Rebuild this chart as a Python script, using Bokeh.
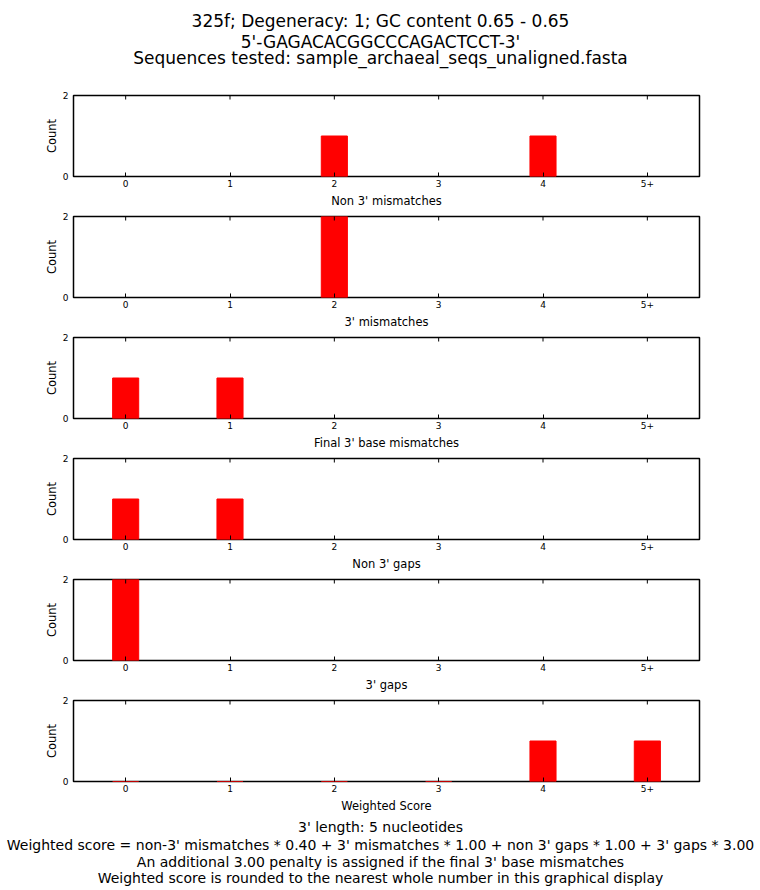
import math
from bokeh.plotting import figure
from bokeh.layouts import column
from bokeh.models import FactorRange, Range1d, FixedTicker
from bokeh.embed import file_html
from bokeh.resources import INLINE
from bokeh.core.properties import value

# ---- data ----
categories = ["0", "1", "2", "3", "4", "5+"]
non3_mismatches = [0, 0, 1, 0, 1, 0]
mismatches_3 = [0, 0, 2, 0, 0, 0]
final_base_mismatches = [1, 1, 0, 0, 0, 0]
non3_gaps = [1, 1, 0, 0, 0, 0]
gaps_3 = [2, 0, 0, 0, 0, 0]
weighted_score = [0, 0, 0, 0, 1, 1]

panel_series = [non3_mismatches, mismatches_3, final_base_mismatches,
                non3_gaps, gaps_3, weighted_score]
panel_labels = ["Non 3' mismatches", "3' mismatches", "Final 3' base mismatches",
                "Non 3' gaps", "3' gaps", "Weighted Score"]
panel_show_zero = [False, False, False, False, False, True]
y_ticks = [0, 2]

title_lines = ["325f; Degeneracy: 1; GC content 0.65 - 0.65",
               "5'-GAGACACGGCCCAGACTCCT-3'",
               "Sequences tested: sample_archaeal_seqs_unaligned.fasta"]
footer_lines = ["3' length: 5 nucleotides",
                "Weighted score = non-3' mismatches * 0.40 + 3' mismatches * 1.00 + non 3' gaps * 1.00 + 3' gaps * 3.00",
                "An additional 3.00 penalty is assigned if the final 3' base mismatches",
                "Weighted score is rounded to the nearest whole number in this graphical display"]

FONT = "DejaVu Sans"
W = 760


def text_fig(lines, height, tops, size):
    f = figure(width=W, height=height, x_range=Range1d(0, W), y_range=Range1d(0, height),
               output_backend="svg", toolbar_location=None, min_border=0,
               frame_align=False)
    f.axis.visible = False
    f.grid.visible = False
    f.outline_line_color = None
    f.text(x=[W / 2] * len(lines), y=[height - t for t in tops], text=lines,
           text_align="center", text_baseline="middle", text_font=value(FONT),
           text_font_size=size, text_color="black")
    return f


def panel(vals, label, show_zero):
    p = figure(width=W, height=121,
               x_range=FactorRange(factors=categories, range_padding=0),
               y_range=Range1d(0, 2),
               output_backend="svg", toolbar_location=None,
               min_border_left=73, min_border_right=61,
               min_border_top=6, min_border_bottom=34)
    p.grid.visible = False
    p.outline_line_color = "black"
    p.outline_line_width = 1.5
    p.outline_line_alpha = 1.0
    xs = [c for c, v in zip(categories, vals) if v > 0 or show_zero]
    tops = [v for v in vals if v > 0 or show_zero]
    p.vbar(x=xs, top=tops, width=0.25, fill_color="#ff0000",
           line_color="#ff0000", line_width=1)

    # inward tick marks along the top edge (matplotlib classic style)
    p.scatter(x=categories, y=[p.y_range.end] * len(categories), marker="dash",
              size=8, angle=math.pi / 2, line_color="black", line_width=1)

    xa = p.xaxis[0]
    xa.axis_line_color = None
    xa.major_tick_in = 4
    xa.major_tick_out = 0
    xa.major_tick_line_color = "black"
    xa.major_label_text_font = FONT
    xa.major_label_text_font_size = "9px"
    xa.major_label_text_color = "black"
    xa.major_label_standoff = 3
    xa.axis_label = label
    xa.axis_label_text_font = FONT
    xa.axis_label_text_font_size = "11.5px"
    xa.axis_label_text_font_style = "normal"
    xa.axis_label_text_color = "black"
    xa.axis_label_standoff = 4

    ya = p.yaxis[0]
    ya.ticker = FixedTicker(ticks=y_ticks)
    ya.minor_tick_line_color = None
    ya.axis_line_color = None
    ya.major_tick_in = 4
    ya.major_tick_out = 0
    ya.major_label_text_font = FONT
    ya.major_label_text_font_size = "9px"
    ya.major_label_text_color = "black"
    ya.major_label_standoff = 5
    ya.axis_label = "Count"
    ya.axis_label_text_font = FONT
    ya.axis_label_text_font_size = "11.5px"
    ya.axis_label_text_font_style = "normal"
    ya.axis_label_text_color = "black"
    ya.axis_label_standoff = 1
    return p


header = text_fig(title_lines, 89, [20, 41, 57], "17px")
panels = [panel(v, l, z) for v, l, z in zip(panel_series, panel_labels, panel_show_zero)]
footer = text_fig(footer_lines, 75, [11, 29, 46, 62], "14px")

layout = column(header, *panels, footer, spacing=0)
open("out.html", "w").write(file_html(layout, INLINE))
